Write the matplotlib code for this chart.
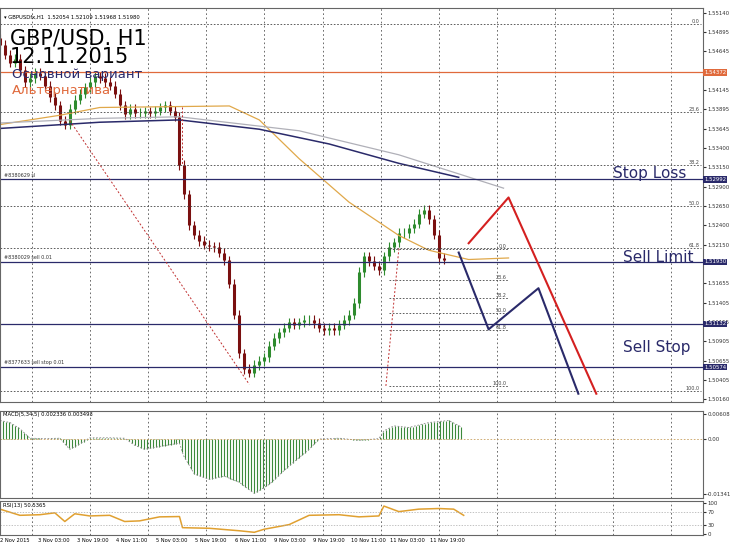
import matplotlib.pyplot as plt
import numpy as np

# price path, one candle per 5 px step
closes = [1.5473, 1.5460, 1.5450, 1.5455, 1.5440, 1.5425, 1.5430, 1.5437, 1.5433, 1.5420,
          1.5405, 1.5395, 1.5375, 1.5370, 1.5390, 1.5402, 1.5410, 1.5418, 1.5425, 1.5432,
          1.5430, 1.5425, 1.5420, 1.5410, 1.5395, 1.5383, 1.5390, 1.5385, 1.5385, 1.5387,
          1.5385, 1.5388, 1.5392, 1.5395, 1.5388, 1.5380, 1.5318, 1.5280, 1.5240, 1.5228,
          1.5220, 1.5215, 1.5213, 1.5212, 1.5205, 1.5195, 1.5165, 1.5125, 1.5075, 1.5055,
          1.5050, 1.5060, 1.5065, 1.5070, 1.5085, 1.5095, 1.5102, 1.5108, 1.5115, 1.5112,
          1.5115, 1.5118, 1.5118, 1.5114, 1.5108, 1.5105, 1.5108, 1.5105, 1.5112, 1.5118,
          1.5125, 1.5140, 1.5180, 1.5200, 1.5194, 1.5188, 1.5182, 1.5200, 1.5212, 1.5218,
          1.5230, 1.5230, 1.5236, 1.5242, 1.5255, 1.5260, 1.5248, 1.5228, 1.5198, 1.5196]
step = 5

ma_gold_x = [0, 60, 100, 230, 260, 300, 350, 400, 430, 470, 510]
ma_gold_y = [1.5370, 1.5382, 1.5392, 1.5394, 1.5376, 1.5326, 1.5270, 1.5227, 1.5208, 1.5196, 1.5198]
ma_gray_x = [0, 100, 180, 300, 400, 505]
ma_gray_y = [1.5372, 1.5378, 1.5380, 1.5362, 1.5331, 1.5288]
ma_navy_x = [0, 100, 180, 260, 330, 400, 460]
ma_navy_y = [1.5365, 1.5373, 1.5376, 1.5364, 1.5345, 1.5320, 1.5302]

order_levels = [1.54372, 1.52992, 1.51930, 1.51132, 1.50574]
order_colors = ['#e06a3c', '#2a2a6a', '#2a2a6a', '#2a2a6a', '#2a2a6a']
order_tags = ['', '#8380629 sl', '#8380029 sell 0.01', '', '#8377633 sell stop 0.01']

fib_big = [(0.0, 1.5500), (23.6, 1.5386), (38.2, 1.5318), (50.0, 1.5265), (61.8, 1.5211), (100.0, 1.5027)]
fib_small = [(0.0, 1.5210), (23.6, 1.5170), (38.2, 1.5147), (50.0, 1.5127), (61.8, 1.5105), (100.0, 1.5033)]

main_path_x = [460, 490, 540, 580]
main_path_y = [1.5205, 1.5106, 1.5159, 1.5023]
alt_path_x = [470, 510, 598]
alt_path_y = [1.5217, 1.5276, 1.5023]

price_ticks = [1.55140, 1.54895, 1.54645, 1.54145, 1.53895, 1.53645, 1.53400, 1.53150,
               1.52900, 1.52650, 1.52400, 1.52150, 1.51655, 1.51405, 1.51155, 1.50905,
               1.50655, 1.50405, 1.50160]

macd_x = [0, 10, 20, 30, 45, 60, 70, 80, 90, 110, 125, 135, 145, 160, 180, 184, 195, 210, 225,
          240, 255, 270, 290, 310, 320, 340, 360, 380, 385, 395, 410, 430, 450, 462]
macd_v = [0.0045, 0.0040, 0.0025, 0.0002, 0.0001, 0.0002, -0.0025, -0.0012, 0.0003, 0.0003,
          0.0002, -0.0015, -0.0025, -0.0018, -0.0010, -0.0040, -0.0085, -0.0098, -0.0090,
          -0.0105, -0.0132, -0.0110, -0.0065, -0.0025, 0.0000, 0.0002, -0.0003, 0.0001,
          0.0020, 0.0032, 0.0028, 0.0040, 0.0045, 0.0030]

rsi_x = [0, 20, 40, 55, 65, 75, 90, 110, 125, 140, 160, 180, 183, 210, 240, 255, 265, 290,
         310, 340, 360, 380, 385, 400, 420, 440, 455, 465]
rsi_v = [80, 60, 62, 68, 40, 65, 58, 60, 40, 42, 55, 56, 20, 18, 10, 5, 15, 30,
         60, 62, 55, 58, 90, 72, 80, 82, 80, 60]

date_labels = ['2 Nov 2015', '3 Nov 03:00', '3 Nov 19:00', '4 Nov 11:00', '5 Nov 03:00',
               '5 Nov 19:00', '6 Nov 11:00', '9 Nov 03:00', '9 Nov 19:00', '10 Nov 11:00',
               '11 Nov 03:00', '11 Nov 19:00']

NAVY = '#2a2a6a'
GRIDKW = dict(color='#555555', ls=(0, (2, 3)), lw=0.6)

fig = plt.figure(figsize=(7.3, 5.48), dpi=100)
W = 0.963
ax = fig.add_axes([0.0, 0.266, W, 0.719])
am = fig.add_axes([0.0, 0.092, W, 0.158], sharex=ax)
ar = fig.add_axes([0.0, 0.023, W, 0.062], sharex=ax)
XMAX = 705

for a in (ax, am, ar):
    a.set_facecolor('white')
    for s in a.spines.values():
        s.set_color('#666666')
        s.set_linewidth(0.8)
    a.yaxis.tick_right()
    a.tick_params(labelsize=3.9, length=2, colors='#333333', pad=1)
    for gx in np.arange(32, XMAX, 58.3):
        a.axvline(gx, **GRIDKW)
    a.set_xticks([])

# candles
prev = closes[0] + 0.0008
for i, c in enumerate(closes):
    x = i * step
    col = '#2e8b2e' if c >= prev else '#7a1010'
    ax.vlines(x, min(prev, c) - 0.0006, max(prev, c) + 0.0006, color=col, lw=0.8)
    ax.vlines(x, min(prev, c), max(prev, c), color=col, lw=2.2)
    prev = c

ax.plot(ma_gold_x, ma_gold_y, color='#e0a84a', lw=0.9)
ax.plot(ma_gray_x, ma_gray_y, color='#b0b0b8', lw=0.9)
ax.plot(ma_navy_x, ma_navy_y, color=NAVY, lw=1.1)

for lv, col, tag in zip(order_levels, order_colors, order_tags):
    ax.axhline(lv, color=col, lw=0.9)
    if tag:
        ax.text(4, lv + 0.0002, tag, fontsize=3.5, color='#333333', va='bottom')

for pct, lv in fib_big:
    ax.plot([0, XMAX - 2], [lv, lv], color='#444444', ls=(0, (2, 2)), lw=0.6)
    ax.text(XMAX - 4, lv, f'{pct:.1f}', fontsize=3.5, ha='right', va='bottom', color='#444444')
for pct, lv in fib_small:
    ax.plot([390, 510], [lv, lv], color='#444444', ls=(0, (2, 2)), lw=0.6)
    ax.text(508, lv, f'{pct:.1f}', fontsize=3.5, ha='right', va='bottom', color='#444444')

ax.plot([70, 250], [1.5375, 1.5035], color='#c03030', ls=(0, (2, 2)), lw=0.7)
ax.plot([183, 183], [1.5392, 1.5318], color='#c03030', ls=(0, (2, 2)), lw=0.7)
ax.plot([387, 400], [1.5033, 1.5210], color='#c03030', ls=(0, (2, 2)), lw=0.7)

ax.plot(main_path_x, main_path_y, color=NAVY, lw=1.5)
ax.plot(alt_path_x, alt_path_y, color='#d42020', lw=1.5)

ax.text(10, 1.5494, 'GBP/USD. H1\n12.11.2015', fontsize=15, va='top', linespacing=0.92)
ax.text(12, 1.5435, 'Основной вариант', fontsize=9.5, color=NAVY, va='center')
ax.text(12, 1.5414, 'Альтернатива', fontsize=9.5, color='#e06a3c', va='center')
ax.text(4, 1.5508, '\u25be GBPUSDfx,H1  1.52054 1.52109 1.51968 1.51980', fontsize=3.8, va='center')
ax.text(615, 1.5307, 'Stop Loss', fontsize=11, color=NAVY, va='center')
ax.text(625, 1.5198, 'Sell Limit', fontsize=11, color=NAVY, va='center')
ax.text(625, 1.5083, 'Sell Stop', fontsize=11, color=NAVY, va='center')

ax.set_ylim(1.5012, 1.5520)
ax.set_xlim(0, XMAX)
ax.set_yticks(price_ticks)
ax.set_yticklabels([f'{t:.5f}' for t in price_ticks])
for lv, col in zip(order_levels, ['#e06a3c', NAVY, NAVY, NAVY, NAVY]):
    ax.text(XMAX + 1, lv, f'{lv:.5f}', transform=ax.transData, fontsize=3.9, color='white',
            va='center', ha='left', clip_on=False,
            bbox=dict(boxstyle='square,pad=0.12', fc=col, ec='none'))

# MACD
mx = np.arange(0, 465, 3)
mv = np.interp(mx, macd_x, macd_v)
am.vlines(mx, 0, mv, color='#3c8a3c', lw=0.8)
am.plot(macd_x, macd_v, color='#888888', ls=(0, (2, 2)), lw=0.6)
am.axhline(0, color='#c8a060', ls=(0, (2, 2)), lw=0.6)
am.set_ylim(-0.0142, 0.0068)
am.set_yticks([0.006081, 0.0, -0.01341])
am.set_yticklabels(['0.006081', '0.00', '-0.01341'])
am.text(3, 0.0066, 'MACD(5,34,5) 0.002336 0.003493', fontsize=3.8, va='top')

# RSI
ar.plot(rsi_x, rsi_v, color='#e0a030', lw=1.1)
for lv in (70, 30):
    ar.axhline(lv, color='#aaaaaa', ls=(0, (2, 2)), lw=0.5)
ar.set_ylim(-5, 105)
ar.set_yticks([100, 70, 30, 0])
ar.text(3, 100, 'RSI(13) 50.5365', fontsize=3.8, va='top')
for i, lab in enumerate(date_labels):
    ar.text(0 if i == 0 else 14 + i * 39.5, -14, lab, fontsize=3.7,
            ha='left' if i == 0 else 'center', va='top', clip_on=False)

fig.savefig('out.png', dpi=100)
